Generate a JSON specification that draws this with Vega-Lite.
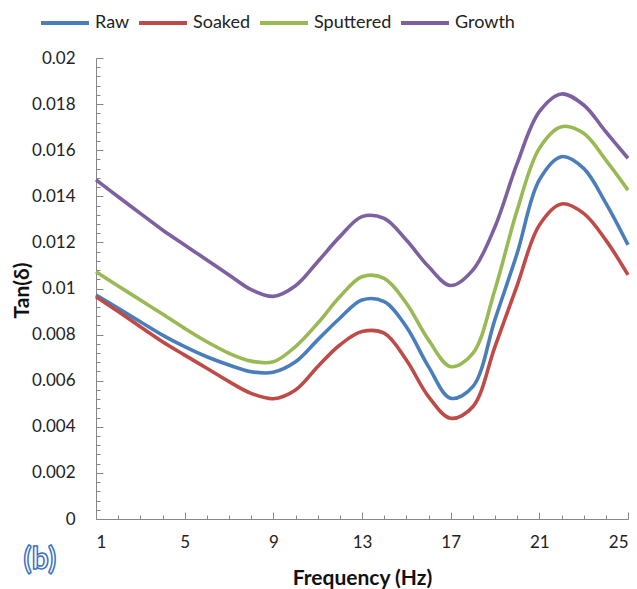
{
  "$schema": "https://vega.github.io/schema/vega-lite/v6.json",
  "autosize": {"type": "none"},
  "width": 532,
  "height": 461,
  "padding": {"left": 96, "top": 58, "right": 9, "bottom": 70},
  "background": "white",
  "config": {
    "view": {"stroke": null},
    "font": "Lato",
    "axis": {"grid": false, "domainColor": "#868686", "tickColor": "#868686", "tickWidth": 1, "labelColor": "#222222", "titleColor": "#111111", "labelFont": "Lato", "titleFont": "Lato"}
  },
  "datasets": {
    "curves": [
      {"f": 1, "series": "Raw", "v": 0.00972}, {"f": 2, "series": "Raw", "v": 0.00914}, {"f": 3, "series": "Raw", "v": 0.00856}, {"f": 4, "series": "Raw", "v": 0.00798}, {"f": 5, "series": "Raw", "v": 0.00748}, {"f": 6, "series": "Raw", "v": 0.00704}, {"f": 7, "series": "Raw", "v": 0.00668}, {"f": 8, "series": "Raw", "v": 0.00639}, {"f": 9, "series": "Raw", "v": 0.00637}, {"f": 10, "series": "Raw", "v": 0.00682}, {"f": 11, "series": "Raw", "v": 0.00777}, {"f": 12, "series": "Raw", "v": 0.00871}, {"f": 13, "series": "Raw", "v": 0.0095}, {"f": 14, "series": "Raw", "v": 0.00943}, {"f": 15, "series": "Raw", "v": 0.00834}, {"f": 16, "series": "Raw", "v": 0.00661}, {"f": 17, "series": "Raw", "v": 0.00524}, {"f": 18, "series": "Raw", "v": 0.00574}, {"f": 19, "series": "Raw", "v": 0.00866}, {"f": 20, "series": "Raw", "v": 0.01153}, {"f": 21, "series": "Raw", "v": 0.01471}, {"f": 22, "series": "Raw", "v": 0.01572}, {"f": 23, "series": "Raw", "v": 0.01521}, {"f": 24, "series": "Raw", "v": 0.0137}, {"f": 25, "series": "Raw", "v": 0.01189},
      {"f": 1, "series": "Soaked", "v": 0.00964}, {"f": 2, "series": "Soaked", "v": 0.009}, {"f": 3, "series": "Soaked", "v": 0.00834}, {"f": 4, "series": "Soaked", "v": 0.00769}, {"f": 5, "series": "Soaked", "v": 0.00711}, {"f": 6, "series": "Soaked", "v": 0.00654}, {"f": 7, "series": "Soaked", "v": 0.00596}, {"f": 8, "series": "Soaked", "v": 0.00545}, {"f": 9, "series": "Soaked", "v": 0.00522}, {"f": 10, "series": "Soaked", "v": 0.0056}, {"f": 11, "series": "Soaked", "v": 0.00661}, {"f": 12, "series": "Soaked", "v": 0.00755}, {"f": 13, "series": "Soaked", "v": 0.00813}, {"f": 14, "series": "Soaked", "v": 0.00806}, {"f": 15, "series": "Soaked", "v": 0.0069}, {"f": 16, "series": "Soaked", "v": 0.00531}, {"f": 17, "series": "Soaked", "v": 0.00437}, {"f": 18, "series": "Soaked", "v": 0.00487}, {"f": 19, "series": "Soaked", "v": 0.00748}, {"f": 20, "series": "Soaked", "v": 0.01014}, {"f": 21, "series": "Soaked", "v": 0.01275}, {"f": 22, "series": "Soaked", "v": 0.01367}, {"f": 23, "series": "Soaked", "v": 0.01326}, {"f": 24, "series": "Soaked", "v": 0.0121}, {"f": 25, "series": "Soaked", "v": 0.01059},
      {"f": 1, "series": "Sputtered", "v": 0.01073}, {"f": 2, "series": "Sputtered", "v": 0.01011}, {"f": 3, "series": "Sputtered", "v": 0.0095}, {"f": 4, "series": "Sputtered", "v": 0.00889}, {"f": 5, "series": "Sputtered", "v": 0.00827}, {"f": 6, "series": "Sputtered", "v": 0.00769}, {"f": 7, "series": "Sputtered", "v": 0.00719}, {"f": 8, "series": "Sputtered", "v": 0.00685}, {"f": 9, "series": "Sputtered", "v": 0.00682}, {"f": 10, "series": "Sputtered", "v": 0.00748}, {"f": 11, "series": "Sputtered", "v": 0.00849}, {"f": 12, "series": "Sputtered", "v": 0.00964}, {"f": 13, "series": "Sputtered", "v": 0.01051}, {"f": 14, "series": "Sputtered", "v": 0.01044}, {"f": 15, "series": "Sputtered", "v": 0.00936}, {"f": 16, "series": "Sputtered", "v": 0.00777}, {"f": 17, "series": "Sputtered", "v": 0.00661}, {"f": 18, "series": "Sputtered", "v": 0.00719}, {"f": 19, "series": "Sputtered", "v": 0.00996}, {"f": 20, "series": "Sputtered", "v": 0.0134}, {"f": 21, "series": "Sputtered", "v": 0.01608}, {"f": 22, "series": "Sputtered", "v": 0.01702}, {"f": 23, "series": "Sputtered", "v": 0.01673}, {"f": 24, "series": "Sputtered", "v": 0.01557}, {"f": 25, "series": "Sputtered", "v": 0.01427},
      {"f": 1, "series": "Growth", "v": 0.01471}, {"f": 2, "series": "Growth", "v": 0.01398}, {"f": 3, "series": "Growth", "v": 0.01326}, {"f": 4, "series": "Growth", "v": 0.01254}, {"f": 5, "series": "Growth", "v": 0.01189}, {"f": 6, "series": "Growth", "v": 0.01124}, {"f": 7, "series": "Growth", "v": 0.01059}, {"f": 8, "series": "Growth", "v": 0.00995}, {"f": 9, "series": "Growth", "v": 0.00966}, {"f": 10, "series": "Growth", "v": 0.01012}, {"f": 11, "series": "Growth", "v": 0.01116}, {"f": 12, "series": "Growth", "v": 0.01225}, {"f": 13, "series": "Growth", "v": 0.01312}, {"f": 14, "series": "Growth", "v": 0.01304}, {"f": 15, "series": "Growth", "v": 0.0121}, {"f": 16, "series": "Growth", "v": 0.01095}, {"f": 17, "series": "Growth", "v": 0.01013}, {"f": 18, "series": "Growth", "v": 0.0108}, {"f": 19, "series": "Growth", "v": 0.01268}, {"f": 20, "series": "Growth", "v": 0.01543}, {"f": 21, "series": "Growth", "v": 0.01767}, {"f": 22, "series": "Growth", "v": 0.01844}, {"f": 23, "series": "Growth", "v": 0.01796}, {"f": 24, "series": "Growth", "v": 0.0168}, {"f": 25, "series": "Growth", "v": 0.01565}
    ],
    "panel": [{"label": "(b)", "f": -1.53, "v": -0.00178}]
  },
  "layer": [
    {
      "data": {"name": "curves"},
      "mark": {"type": "line", "interpolate": "catmull-rom", "strokeWidth": 3.6},
      "encoding": {
        "x": {
          "field": "f", "type": "quantitative",
          "scale": {"domain": [1, 25], "nice": false, "zero": false},
          "axis": {
            "title": "Frequency (Hz)",
            "values": [1,2,3,4,5,6,7,8,9,10,11,12,13,14,15,16,17,18,19,20,21,22,23,24,25],
            "tickCount": 100,
            "format": "d",
            "labelExpr": "(datum.value - 1) % 4 == 0 ? datum.label : ''",
            "labelOverlap": false,
            "labelFontSize": 17,
            "labelPadding": 22,
            "tickSize": {"condition": {"test": "(datum.value - 1) % 4 == 0", "value": -7}, "value": -4},
            "titleFontSize": 21,
            "titleFontWeight": "bold",
            "titleBaseline": "middle",
            "titleY": 59
          }
        },
        "y": {
          "field": "v", "type": "quantitative",
          "scale": {"domain": [0, 0.02], "nice": false},
          "axis": {
            "title": "Tan(δ)",
            "values": [0,0.0004,0.0008,0.0012,0.0016,0.002,0.0024,0.0028,0.0032,0.0036,0.004,0.0044,0.0048,0.0052,0.0056,0.006,0.0064,0.0068,0.0072,0.0076,0.008,0.0084,0.0088,0.0092,0.0096,0.01,0.0104,0.0108,0.0112,0.0116,0.012,0.0124,0.0128,0.0132,0.0136,0.014,0.0144,0.0148,0.0152,0.0156,0.016,0.0164,0.0168,0.0172,0.0176,0.018,0.0184,0.0188,0.0192,0.0196,0.02],
            "tickCount": 200,
            "format": "~g",
            "labelExpr": "abs(datum.value / 0.002 - round(datum.value / 0.002)) < 0.000001 ? datum.label : ''",
            "labelOverlap": false,
            "labelFontSize": 17,
            "labelPadding": 28,
            "tickSize": {"condition": {"test": "abs(datum.value / 0.002 - round(datum.value / 0.002)) < 0.000001", "value": -7}, "value": -4},
            "titleFontSize": 21,
            "titleFontWeight": "bold",
            "titleAngle": -90,
            "titleAlign": "center",
            "titleBaseline": "middle",
            "titleX": -74,
            "titleY": 232
          }
        },
        "color": {
          "field": "series", "type": "nominal",
          "scale": {"domain": ["Raw", "Soaked", "Sputtered", "Growth"], "range": ["#4A7EBB", "#BE4B48", "#98B954", "#7D60A0"]},
          "legend": {
            "title": null,
            "orient": "none",
            "direction": "horizontal",
            "legendX": -57,
            "legendY": -61,
            "symbolType": "stroke",
            "symbolSize": 2304,
            "symbolStrokeWidth": 4,
            "labelFontSize": 18,
            "labelFont": "Lato",
            "labelColor": "#222222",
            "labelOffset": 4,
            "columnPadding": 1
          }
        }
      }
    },
    {
      "data": {"name": "panel"},
      "mark": {"type": "text", "fontSize": 30, "font": "Lato", "fontWeight": "bold", "fill": "white", "stroke": "#3A6FC4", "strokeWidth": 1.5, "align": "center", "baseline": "middle"},
      "encoding": {
        "x": {"field": "f", "type": "quantitative"},
        "y": {"field": "v", "type": "quantitative"},
        "text": {"field": "label"}
      }
    }
  ]
}
